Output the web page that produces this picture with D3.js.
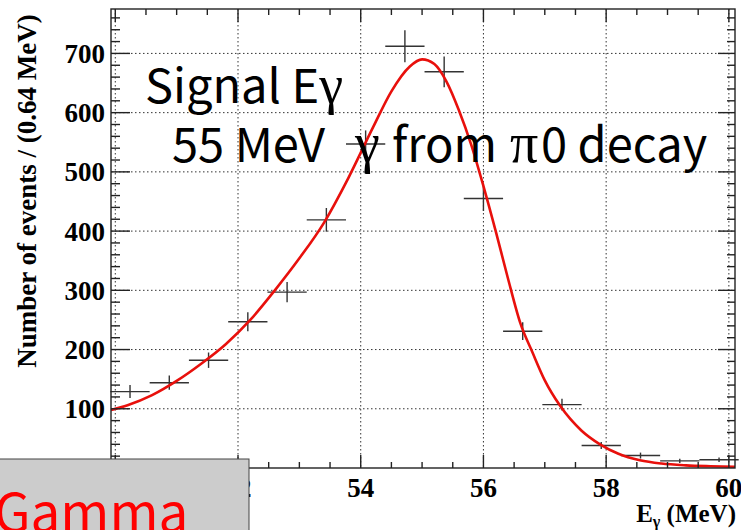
<!DOCTYPE html>
<meta charset="utf-8">
<head>
    <script src="https://d3js.org/d3.v7.min.js"></script>
    <style>
      body { margin: 0; background: #fff; }
      svg { display: block; }
    </style>
</head>
<html lang="ja">
    <body>
        <div id="dataviz"></div>
    </body>
</html>
<script>
    // bin centers (MeV), bin width 0.64 MeV
    const binCenters = [50.24, 50.88, 51.52, 52.16, 52.80, 53.44, 54.08, 54.72,
                        55.36, 56.00, 56.64, 57.28, 57.92, 58.56, 59.20, 59.84];
    const counts = [129, 144, 182, 247, 297, 419, 547, 712, 669, 455, 231, 107, 38, 21, 12, 14];
    const errors = [11, 12, 13, 16, 17, 20, 23, 27, 26, 21, 15, 10, 6, 5, 3.5, 3.7];
    const binWidth = 0.64;

    // fit curve
    const fitE = [49.93, 50.2, 50.6, 51.0, 51.4, 51.8, 52.2, 52.6, 53.0, 53.4, 53.8, 54.2, 54.5,
                  54.8, 55.0, 55.2, 55.4, 55.6, 55.8, 56.0, 56.2, 56.4, 56.6, 56.8, 57.0, 57.25,
                  57.6, 57.9, 58.2, 58.55, 58.9, 59.3, 59.7, 60.1];
    const fitN = [98, 106, 123, 147, 176, 209, 250, 300, 354, 414, 490, 575, 636,
                  678, 690, 682, 652, 604, 546, 476, 400, 320, 245, 195, 148, 105,
                  63, 40, 24, 13, 7.5, 4.5, 3, 2];

    const xTicks = [50, 52, 54, 56, 58, 60];
    const yTicks = [100, 200, 300, 400, 500, 600, 700];

    const W = 741, H = 530;
    const box = {left: 111, right: 735, top: 9, bottom: 468};

    const svg = d3.select("#dataviz")
      .append("svg")
        .attr("width", W)
        .attr("height", H);

    const x = d3.scaleLinear().domain([49.93, 60.1]).range([box.left, box.right]);
    const y = d3.scaleLinear().domain([0, 775]).range([box.bottom, box.top]);

    // dotted grid
    const grid = svg.append("g")
      .attr("stroke", "#333")
      .attr("stroke-width", 1)
      .attr("stroke-dasharray", "1.5,2.5");
    grid.selectAll("line.gx").data(xTicks).join("line")
      .attr("x1", d => x(d)).attr("x2", d => x(d))
      .attr("y1", box.top).attr("y2", box.bottom);
    grid.selectAll("line.gy").data(yTicks).join("line")
      .attr("x1", box.left).attr("x2", box.right)
      .attr("y1", d => y(d)).attr("y2", d => y(d));

    // data points with error bars
    const pts = binCenters.map((c, i) => ({c: c, n: counts[i], e: errors[i]}));
    const marks = svg.append("g")
      .attr("stroke", "#333")
      .attr("stroke-width", 1.4);
    marks.selectAll("line.h").data(pts).join("line")
      .attr("x1", d => x(d.c - binWidth / 2)).attr("x2", d => x(d.c + binWidth / 2))
      .attr("y1", d => y(d.n)).attr("y2", d => y(d.n));
    marks.selectAll("line.v").data(pts).join("line")
      .attr("x1", d => x(d.c)).attr("x2", d => x(d.c))
      .attr("y1", d => y(d.n - d.e)).attr("y2", d => y(d.n + d.e));

    // fit curve
    const line = d3.line()
      .x(d => x(d[0]))
      .y(d => y(d[1]))
      .curve(d3.curveMonotoneX);
    svg.append("path")
      .datum(fitE.map((e, i) => [e, fitN[i]]))
      .attr("d", line)
      .attr("fill", "none")
      .attr("stroke", "#e8100c")
      .attr("stroke-width", 2.6);

    // frame + ROOT style ticks
    const axes = svg.append("g")
      .attr("stroke", "#222")
      .attr("stroke-width", 1.4);
    axes.append("rect")
      .attr("x", box.left).attr("y", box.top)
      .attr("width", box.right - box.left).attr("height", box.bottom - box.top)
      .attr("fill", "none");

    const yMinor = d3.range(20, 775, 20);
    const xMinor = d3.range(50, 60.01, 0.5);
    axes.selectAll("line.ym").data(yMinor).join("line")
      .attr("x1", box.left).attr("x2", d => box.left + (d % 100 === 0 ? 19 : 9))
      .attr("y1", d => y(d)).attr("y2", d => y(d));
    axes.selectAll("line.ymr").data(yMinor).join("line")
      .attr("x1", box.right).attr("x2", d => box.right - (d % 100 === 0 ? 17 : 8))
      .attr("y1", d => y(d)).attr("y2", d => y(d));
    axes.selectAll("line.xm").data(xMinor).join("line")
      .attr("x1", d => x(d)).attr("x2", d => x(d))
      .attr("y1", box.bottom).attr("y2", d => box.bottom - (d % 2 === 0 ? 13 : 6));
    axes.selectAll("line.xmt").data(xMinor).join("line")
      .attr("x1", d => x(d)).attr("x2", d => x(d))
      .attr("y1", box.top).attr("y2", d => box.top + (d % 2 === 0 ? 13 : 6));

    // tick labels
    const serif = "'Liberation Serif', 'Times New Roman', serif";
    svg.selectAll("text.yl").data(yTicks).join("text")
      .attr("x", 105)
      .attr("y", d => y(d))
      .attr("dy", "0.35em")
      .attr("text-anchor", "end")
      .style("font-family", serif)
      .style("font-weight", "bold")
      .style("font-size", "27px")
      .text(d => d);
    svg.selectAll("text.xl").data(xTicks).join("text")
      .attr("x", d => x(d))
      .attr("y", 497)
      .attr("text-anchor", "middle")
      .style("font-family", serif)
      .style("font-weight", "bold")
      .style("font-size", "27px")
      .text(d => d);

    // axis titles
    svg.append("text")
      .attr("transform", "translate(36,191) rotate(-90)")
      .attr("text-anchor", "middle")
      .style("font-family", serif)
      .style("font-weight", "bold")
      .style("font-size", "27px")
      .text("Number of events / (0.64 MeV)");
    const xt = svg.append("text")
      .attr("x", 736)
      .attr("y", 522)
      .attr("text-anchor", "end")
      .style("font-family", serif)
      .style("font-weight", "bold")
      .style("font-size", "25px");
    xt.append("tspan").text("E");
    xt.append("tspan").attr("dy", 5).style("font-size", "16px").text("γ");
    xt.append("tspan").attr("dy", -5).text(" (MeV)");

    // annotation
    const sans = "'Noto Sans CJK JP', 'Noto Sans', sans-serif";
    const greek = "'Liberation Serif', serif";
    const t1 = svg.append("text")
      .attr("x", 145).attr("y", 103)
      .style("font-family", sans).style("font-size", "47px").attr("fill", "#000");
    t1.append("tspan").text("Signal E");
    t1.append("tspan").style("font-family", greek).style("font-size", "54px").text("γ");
    const t2 = svg.append("text")
      .attr("y", 162)
      .style("font-family", sans).style("font-size", "47px").attr("fill", "#000");
    t2.append("tspan").attr("x", 172).text("55 MeV");
    t2.append("tspan").attr("x", 355).style("font-family", greek).style("font-size", "56px").text("γ");
    t2.append("tspan").attr("x", 392).text("from");
    t2.append("tspan").attr("x", 510).style("font-family", greek).style("font-size", "56px").text("π");
    t2.append("tspan").attr("x", 541).text("0 decay");

    // gray label box at bottom left
    svg.append("rect")
      .attr("x", -2).attr("y", 459)
      .attr("width", 251).attr("height", 80)
      .attr("fill", "#cccccc")
      .attr("stroke", "#444")
      .attr("stroke-width", 1);
    svg.append("text")
      .attr("x", -6).attr("y", 532)
      .style("font-family", sans)
      .style("font-size", "53px")
      .attr("fill", "#ff0000")
      .text("Gamma");
</script>
